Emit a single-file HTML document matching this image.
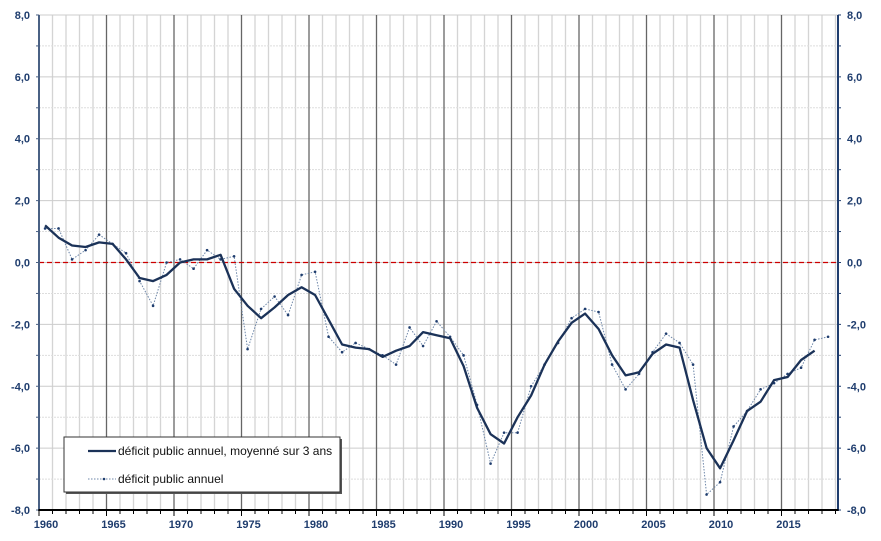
<!DOCTYPE html><html><head><meta charset="utf-8"><style>body{margin:0;background:#fff}svg{display:block;font-family:"Liberation Sans",Arial,sans-serif}</style></head><body>
<svg id="c" width="881" height="541" xmlns="http://www.w3.org/2000/svg"></svg>
<script>
const s=document.getElementById('c');let h='';
const X=y=>39+(y-1960)*13.5, Y=v=>262.5-v*30.94;
// minor verticals
for(let y=1961;y<=2019;y++){if(y%5)h+=`<line x1="${X(y)}" y1="15" x2="${X(y)}" y2="510" stroke="#d4d4d4" stroke-width="1.3"/>`;}
for(let v=-7;v<=7;v++){h+=`<line x1="39" y1="${Y(v)}" x2="838" y2="${Y(v)}" stroke="${v%2?'#ddd':'#ccc'}" stroke-width="1" ${v%2?'stroke-dasharray="2,1"':''}/>`;}
h+=`<line x1="39" y1="15" x2="838" y2="15" stroke="#ccc"/>`;
for(let y=1965;y<=2015;y+=5)h+=`<line x1="${X(y)}" y1="15" x2="${X(y)}" y2="510" stroke="#666" stroke-width="1.3"/>`;
h+=`<line x1="39" y1="${Y(0)}" x2="838" y2="${Y(0)}" stroke="#c00" stroke-width="1.3" stroke-dasharray="5,3"/>`;
// axes
h+=`<line x1="39" y1="15" x2="39" y2="510" stroke="#4a6184" stroke-width="2"/><line x1="838" y1="15" x2="838" y2="510" stroke="#1f3d6e" stroke-width="2"/><line x1="38" y1="510" x2="839" y2="510" stroke="#000" stroke-width="2"/>`;
for(let v=-8;v<=8;v++){h+=`<line x1="36" y1="${Y(v)}" x2="39" y2="${Y(v)}" stroke="#4a6184"/><line x1="838" y1="${Y(v)}" x2="841" y2="${Y(v)}" stroke="#1f3d6e"/>`;
 if(v%2==0){const t=(v<0?'-':'')+Math.abs(v)+',0';h+=`<text x="30" y="${Y(v)+4}" text-anchor="end" font-size="11" font-weight="bold" fill="#1f3d6e">${t}</text><text x="847" y="${Y(v)+4}" font-size="11" font-weight="bold" fill="#1f3d6e">${t}</text>`;}}
for(let y=1960;y<=2019;y++)h+=`<line x1="${X(y)}" y1="510" x2="${X(y)}" y2="${y%5?514:516}" stroke="#000"/>`;
for(let y=1960;y<=2015;y+=5)h+=`<text x="${X(y)+7}" y="528" text-anchor="middle" font-size="11" font-weight="bold" fill="#1f3d6e">${y}</text>`;
const a=[1.1,1.1,0.1,0.4,0.9,0.6,0.3,-0.6,-1.4,0,0.1,-0.2,0.4,0.1,0.2,-2.8,-1.5,-1.1,-1.7,-0.4,-0.3,-2.4,-2.9,-2.6,-2.8,-3.0,-3.3,-2.1,-2.7,-1.9,-2.4,-3.0,-4.6,-6.5,-5.5,-5.5,-4.0,-3.3,-2.6,-1.8,-1.5,-1.6,-3.3,-4.1,-3.6,-2.9,-2.3,-2.6,-3.3,-7.5,-7.1,-5.3,-4.8,-4.1,-3.9,-3.6,-3.4,-2.5,-2.4];
const m=[1.2,0.8,0.55,0.5,0.65,0.6,0.1,-0.5,-0.6,-0.4,0,0.1,0.1,0.25,-0.85,-1.4,-1.8,-1.45,-1.05,-0.8,-1.05,-1.85,-2.65,-2.75,-2.8,-3.05,-2.85,-2.7,-2.25,-2.35,-2.45,-3.35,-4.7,-5.55,-5.85,-5.0,-4.3,-3.3,-2.55,-1.95,-1.65,-2.15,-3.0,-3.65,-3.55,-2.95,-2.65,-2.75,-4.45,-6.0,-6.65,-5.75,-4.8,-4.5,-3.8,-3.7,-3.15,-2.85];
const pa=a.map((v,i)=>X(1960.45+i).toFixed(1)+','+Y(v).toFixed(1)).join(' ');
const pm=m.map((v,i)=>X(1960.45+i).toFixed(1)+','+Y(v).toFixed(1)).join(' ');
h+=`<polyline points="${pa}" fill="none" stroke="#6d86a8" stroke-width="1" stroke-dasharray="1.5,1.5"/>`;
a.forEach((v,i)=>h+=`<circle cx="${X(1960.45+i)}" cy="${Y(v)}" r="1.3" fill="#1f3d6e"/>`);
h+=`<polyline points="${pm}" fill="none" stroke="#1b3258" stroke-width="2.3" stroke-linejoin="round"/>`;
// legend
h+=`<rect x="66" y="439" width="276" height="55" fill="#555"/><rect x="64" y="437" width="276" height="55" fill="#fff" stroke="#333"/>`;
h+=`<line x1="88" y1="451" x2="116" y2="451" stroke="#1b3258" stroke-width="2.3"/><text x="118" y="455" font-size="12" fill="#111">déficit public annuel, moyenné sur 3 ans</text>`;
h+=`<line x1="88" y1="479" x2="116" y2="479" stroke="#6d86a8" stroke-dasharray="1.5,1.5"/><circle cx="104" cy="479" r="1.3" fill="#1f3d6e"/><text x="118" y="483" font-size="12" fill="#111">déficit public annuel</text>`;
s.innerHTML=h;
</script></body></html>
